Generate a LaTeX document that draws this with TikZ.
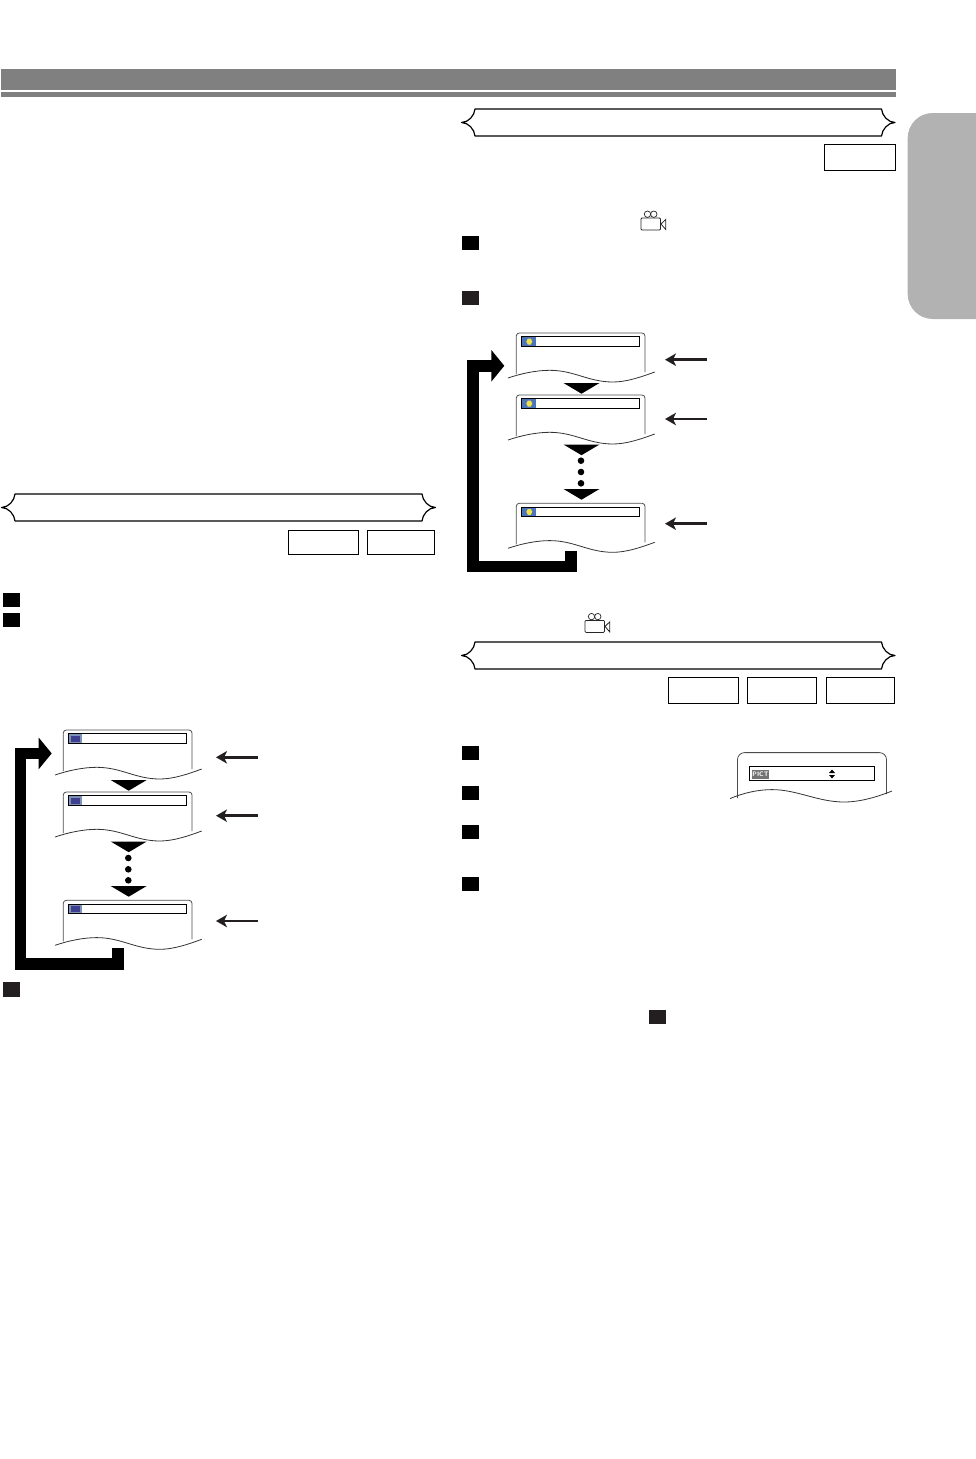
\documentclass[tikz,border=0pt]{standalone}
\usepackage{tikz}
\usetikzlibrary{arrows.meta}

\definecolor{markblack}{HTML}{231F20}
\definecolor{headgray}{HTML}{808080}
\definecolor{tabgray}{HTML}{B2B2B2}
\definecolor{screenblue}{HTML}{3F3F8F}
\definecolor{screenedge}{HTML}{7C93B5}
\definecolor{angleblue}{HTML}{4C74B9}
\definecolor{angleyellow}{HTML}{F2E24A}

\tikzset{
    stepmark/.style={fill=black,inner sep=0pt,outer sep=0pt,minimum width=17pt,minimum height=14pt},
    disctag/.style={draw,line width=0.9pt,inner sep=0pt,outer sep=0pt},
    sidearrow/.style={line width=2.7pt,draw=markblack,-{Stealth[length=11pt,width=12.5pt,inset=3pt]}},
    looparrow/.style={line width=11.6pt,-{Triangle[length=13pt,width=31pt]}},
    bannerline/.style={line width=1.2pt,line join=round},
    monitoricon/.pic={
        \fill[screenedge] (6,4.3) rectangle (18.4,12.7);
        \fill[screenblue] (7.5,5.5) rectangle (16.5,11.5);
    },
    angleicon/.pic={
        \fill[angleblue] (6,4.3) rectangle (20,12.7);
        \fill[angleyellow] (10,8.5) -- (11.5,5.7) -- (14.5,5.7) -- (16,8.5) -- (14.5,11.5) -- (11.5,11.5) -- cycle;
    },
    panel/.pic={
        \draw[line width=0.8pt,rounded corners=3pt,black!70] (0,41) -- (0,0) -- (128.7,0) -- (128.7,39);
        \draw[line width=0.8pt,black!80] (-8.3,45) .. controls (5,40.5) and (20,37.3) .. (33.4,37.3)
            .. controls (58,37.3) and (72,49) .. (96.7,49) .. controls (110,49) and (125,44) .. (138.4,39);
        \draw[line width=0.9pt] (5,3.7) rectangle (123.4,13.3);
        \pic {#1};
    },
    flowtip/.pic={
        \fill (-18,0) -- (18,0) -- (0,10.7) -- cycle;
    },
    camera/.pic={
        \draw[line width=0.7pt,black!85] (6.5,3.2) circle (3.2);
        \draw[line width=0.7pt,black!85] (12.8,3.2) circle (3.2);
        \draw[line width=0.8pt,black!85,fill=white,rounded corners=1pt] (0,7) rectangle (19.5,19);
        \draw[line width=0.8pt,black!85] (20,13) -- (24.7,8.5) -- (24.7,18.5) -- cycle;
    }
}

% left end, right end and middle height of a title band
\newcommand{\titleband}[3]{
    \draw[bannerline] (#1+13.5,#3-13.5) -- (#2-13.5,#3-13.5)
        .. controls (#2-13,#3-7) and (#2-7,#3) .. (#2,#3)
        .. controls (#2-7,#3) and (#2-13,#3+7) .. (#2-13.5,#3+13.5)
        -- (#1+13.5,#3+13.5)
        .. controls (#1+13,#3+7) and (#1+7,#3) .. (#1,#3)
        .. controls (#1+7,#3) and (#1+13,#3-7) .. (#1+13.5,#3-13.5) -- cycle;
}

\begin{document}
\begin{tikzpicture}[x=1pt,y=-1pt]
    \useasboundingbox (0,0) rectangle (976,1459);

    % Page head and side tab
    \fill[headgray] (1,69) rectangle (896,90);
    \fill[headgray] (1,92) rectangle (896,96.7);
    \fill[tabgray,rounded corners=25pt] (907.7,113) rectangle (1010,319);

    % Title bands
    \titleband{1.5}{435.5}{507.5}
    \titleband{461.5}{895}{122.5}
    \titleband{461.5}{895}{655.5}

    % Disc tags
    \node[disctag,minimum width=70.4pt,minimum height=24pt] (tagA) at (323.5,542.3) {};
    \node[disctag,minimum width=67.4pt,minimum height=24pt] (tagB) at (401,542.3) {};
    \node[disctag,minimum width=70.6pt,minimum height=25.3pt] (tagC) at (859.7,157.4) {};
    \node[disctag,minimum width=70.5pt,minimum height=25.2pt] (tagD) at (703.6,690.4) {};
    \node[disctag,minimum width=69.7pt,minimum height=25.2pt] (tagE) at (781.9,690.4) {};
    \node[disctag,minimum width=68.5pt,minimum height=25.2pt] (tagF) at (860.6,690.4) {};

    % Step marks
    \node[stepmark] (stepA) at (11.5,600) {};
    \node[stepmark] (stepB) at (11.5,620) {};
    \node[stepmark,fill=markblack,minimum height=15pt] (stepC) at (11.5,989.5) {};
    \node[stepmark] (stepD) at (470.5,243) {};
    \node[stepmark,fill=markblack] (stepE) at (470.5,298.4) {};
    \node[stepmark] (stepF) at (470.5,753) {};
    \node[stepmark] (stepG) at (470.5,793.2) {};
    \node[stepmark] (stepH) at (470.5,832) {};
    \node[stepmark] (stepI) at (470.5,884) {};
    \node[stepmark,fill=markblack] (stepJ) at (657.5,1017) {};

    % Camera signs
    \pic at (641,211) {camera};
    \pic at (585,613.4) {camera};

    % Left column of screens
    \pic at (63.3,730) {panel=monitoricon};
    \pic at (63.3,792) {panel=monitoricon};
    \pic at (63.3,900.3) {panel=monitoricon};
    \pic at (128.7,780) {flowtip};
    \pic at (128.7,841.5) {flowtip};
    \pic at (128.7,886) {flowtip};
    \fill (128.3,858) circle (3.3);
    \fill (128.3,869.3) circle (3.3);
    \fill (128.3,880.3) circle (3.3);

    % Right column of screens
    \pic at (516.3,333) {panel=angleicon};
    \pic at (516.3,395) {panel=angleicon};
    \pic at (516.3,503.3) {panel=angleicon};
    \pic at (581.5,383) {flowtip};
    \pic at (581.5,444.5) {flowtip};
    \pic at (581.5,489) {flowtip};
    \fill (581,460.7) circle (3.3);
    \fill (581,472) circle (3.3);
    \fill (581,483.3) circle (3.3);

    % Side arrows
    \coordinate (tailA) at (257.7,757.3);
    \coordinate (tipA) at (216,757.3);
    \coordinate (tailB) at (257.7,815.7);
    \coordinate (tipB) at (216,815.7);
    \coordinate (tailC) at (257.7,921);
    \coordinate (tipC) at (216,921);
    \coordinate (tailD) at (707,359.7);
    \coordinate (tipD) at (665,359.7);
    \coordinate (tailE) at (707,419);
    \coordinate (tipE) at (665,419);
    \coordinate (tailF) at (707,523.7);
    \coordinate (tipF) at (665,523.7);
    \draw[sidearrow] (tailA) -- (tipA);
    \draw[sidearrow] (tailB) -- (tipB);
    \draw[sidearrow] (tailC) -- (tipC);
    \draw[sidearrow] (tailD) -- (tipD);
    \draw[sidearrow] (tailE) -- (tipE);
    \draw[sidearrow] (tailF) -- (tipF);

    % Return arrows
    \coordinate (loopAstart) at (118,948.3);
    \coordinate (loopAfoot) at (118,963.9);
    \coordinate (loopAbend) at (20.4,963.9);
    \coordinate (loopAtop) at (20.4,753.4);
    \coordinate (loopAtip) at (51.7,753.4);
    \draw[looparrow] (loopAstart) -- (loopAfoot) -- (loopAbend) -- (loopAtop) -- (loopAtip);
    \coordinate (loopBstart) at (570.9,550.7);
    \coordinate (loopBfoot) at (570.9,566.6);
    \coordinate (loopBbend) at (473.2,566.6);
    \coordinate (loopBtop) at (473.2,365.8);
    \coordinate (loopBtip) at (504.3,365.8);
    \draw[looparrow] (loopBstart) -- (loopBfoot) -- (loopBbend) -- (loopBtop) -- (loopBtip);

    % Small screen at the lower right
    \draw[line width=0.8pt,rounded corners=7pt,black!70] (737.5,798) -- (737.5,752.6) -- (886.5,752.6) -- (886.5,794);
    \draw[line width=0.8pt,black!80] (730,798.6) .. controls (743,793) and (758,789.6) .. (772,789.6)
        .. controls (797,789.6) and (818,802) .. (844,802) .. controls (860,802) and (877,797) .. (892,791);
    \draw[line width=0.9pt] (749,766.4) rectangle (874.7,780.5);
    \node[fill=black!55,text=white,inner sep=0pt,minimum width=15pt,minimum height=9pt,
        font=\fontsize{6.5}{6.5}\sffamily\bfseries] (pictlabel) at (760.5,774.5) {PICT};
    \fill (829,773) -- (835,773) -- (832,769.5) -- cycle;
    \fill (829,775) -- (835,775) -- (832,778.5) -- cycle;
\end{tikzpicture}
\end{document}
